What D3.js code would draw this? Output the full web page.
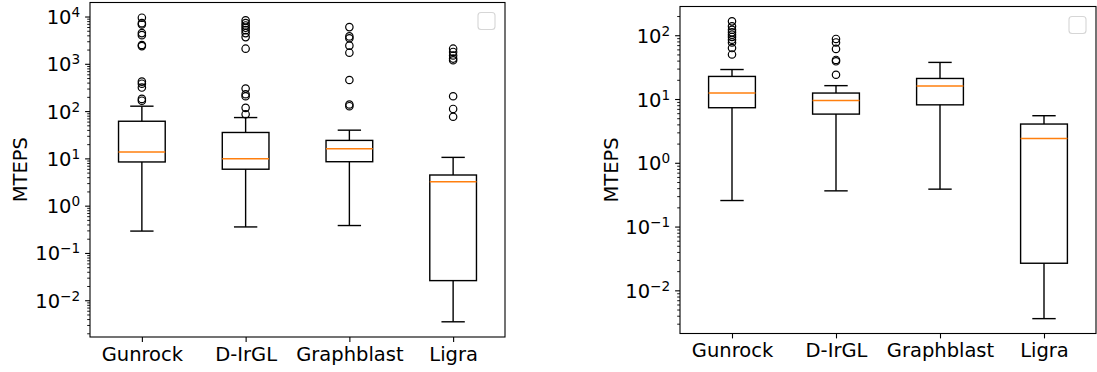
<!DOCTYPE html>
<html>
<head>
<meta charset="utf-8">
<script src="https://cdn.jsdelivr.net/npm/d3@7"></script>
<style>
  body { margin: 0; background: #fff; }
  svg { display: block; font-family: "DejaVu Sans", sans-serif; }
</style>
</head>
<body>
<svg id="chart" width="1097" height="372"></svg>
<script>
const categories = ['Gunrock', 'D-IrGL', 'Graphblast', 'Ligra'];

// left panel box stats (MTEPS)
const leftQ1 = [8.4, 5.9, 8.5, 0.026];
const leftMedian = [13.6, 9.8, 15.9, 3.2];
const leftQ3 = [61, 35.3, 24, 4.45];
const leftWhiskerLo = [0.29, 0.355, 0.38, 0.0035];
const leftWhiskerHi = [127, 73, 39.5, 10.5];
const leftOutliers = [
  [9440, 7250, 6800, 4460, 4040, 2500, 2370, 420, 380, 315, 181, 166],
  [8300, 7250, 6470, 5780, 5150, 4460, 3670, 2090, 300, 227, 206, 117, 86],
  [5970, 3800, 3460, 2420, 1720, 455, 138, 127],
  [2090, 1780, 1500, 1290, 1190, 206, 111, 76]
];

// right panel box stats (MTEPS)
const rightQ1 = [7.3, 5.8, 8.1, 0.0266];
const rightMedian = [12.4, 9.5, 16, 2.41];
const rightQ3 = [22.6, 12.4, 21, 4.05];
const rightWhiskerLo = [0.256, 0.363, 0.386, 0.0036];
const rightWhiskerHi = [29, 16.2, 37.5, 5.47];
const rightOutliers = [
  [165, 138, 122, 111, 102, 94, 85, 77, 63, 50],
  [87.5, 77, 61, 41, 39, 24],
  [],
  []
];

const yLabel = 'MTEPS';

const svg = d3.select('#chart');
const fontSize = 19.5;
const tickLen = 4.9, minorLen = 2.8, tickPad = 4.9;

function superscript(e) {
  return String(e).replace('-', '\u2212');
}

function drawPanel(frame, q1, med, q3, wlo, whi, outl) {
  const g = svg.append('g');
  const boxes = categories.map((c, i) => ({
    pos: i + 1, q1: q1[i], med: med[i], q3: q3[i], lo: wlo[i], hi: whi[i], fliers: outl[i]
  }));

  // log extent of everything drawn, with matplotlib-style 5% margin
  const all = boxes.flatMap(b => [b.lo, b.hi, ...b.fliers]);
  const lmin = Math.log10(d3.min(all)), lmax = Math.log10(d3.max(all));
  const m = (lmax - lmin) * 0.05;

  const x = d3.scaleLinear().domain([0.5, 4.5]).range([frame.left, frame.right]);
  const y = d3.scaleLog()
    .domain([Math.pow(10, lmin - m), Math.pow(10, lmax + m)])
    .range([frame.bottom, frame.top]);

  const majors = d3.range(Math.ceil(lmin - m), Math.floor(lmax + m) + 1);
  const minors = [];
  d3.range(Math.floor(lmin - m), Math.ceil(lmax + m)).forEach(e => {
    for (let k = 2; k < 10; k++) {
      const v = k * Math.pow(10, e);
      if (v >= y.domain()[0] && v <= y.domain()[1]) minors.push(v);
    }
  });

  // minor ticks
  g.append('g')
    .attr('transform', `translate(${frame.left},0)`)
    .call(d3.axisLeft(y).tickValues(minors).tickSize(minorLen).tickFormat(''))
    .call(a => a.select('.domain').remove())
    .selectAll('line').attr('stroke', '#000').attr('stroke-width', 0.9);

  // major ticks + 10^n labels
  const yAxis = g.append('g')
    .attr('transform', `translate(${frame.left},0)`)
    .call(d3.axisLeft(y).tickValues(majors.map(e => Math.pow(10, e)))
      .tickSize(tickLen).tickPadding(tickPad).tickFormat(''));
  yAxis.select('.domain').remove();
  yAxis.selectAll('line').attr('stroke', '#000').attr('stroke-width', 1.1);
  yAxis.selectAll('.tick text').each(function(d) {
    const t = d3.select(this).attr('dy', '0.36em')
      .attr('font-size', fontSize).attr('font-family', 'DejaVu Sans').attr('fill', '#000');
    const e = Math.round(Math.log10(d));
    t.append('tspan').text('10');
    t.append('tspan').attr('dy', -7).attr('font-size', fontSize * 0.7).text(superscript(e));
  });

  // x axis
  const xAxis = g.append('g')
    .attr('transform', `translate(0,${frame.bottom})`)
    .call(d3.axisBottom(x).tickValues([1, 2, 3, 4])
      .tickFormat((d, i) => categories[i]).tickSize(tickLen).tickPadding(tickPad));
  xAxis.select('.domain').remove();
  xAxis.selectAll('line').attr('stroke', '#000').attr('stroke-width', 1.1);
  xAxis.selectAll('text').attr('font-size', fontSize)
    .attr('font-family', 'DejaVu Sans').attr('fill', '#000');

  // boxes
  const bw = x(1.45) - x(1);
  const cw = bw / 2;
  const bg = g.selectAll('.box').data(boxes).join('g').attr('class', 'box')
    .attr('stroke', '#000').attr('stroke-width', 1.4).attr('fill', 'none');
  bg.append('line')
    .attr('x1', d => x(d.pos)).attr('x2', d => x(d.pos))
    .attr('y1', d => y(d.q1)).attr('y2', d => y(d.lo));
  bg.append('line')
    .attr('x1', d => x(d.pos)).attr('x2', d => x(d.pos))
    .attr('y1', d => y(d.q3)).attr('y2', d => y(d.hi));
  bg.append('line')
    .attr('x1', d => x(d.pos) - cw / 2).attr('x2', d => x(d.pos) + cw / 2)
    .attr('y1', d => y(d.lo)).attr('y2', d => y(d.lo));
  bg.append('line')
    .attr('x1', d => x(d.pos) - cw / 2).attr('x2', d => x(d.pos) + cw / 2)
    .attr('y1', d => y(d.hi)).attr('y2', d => y(d.hi));
  bg.append('rect')
    .attr('x', d => x(d.pos) - bw / 2).attr('width', bw)
    .attr('y', d => y(d.q3)).attr('height', d => y(d.q1) - y(d.q3));
  bg.append('line')
    .attr('x1', d => x(d.pos) - bw / 2).attr('x2', d => x(d.pos) + bw / 2)
    .attr('y1', d => y(d.med)).attr('y2', d => y(d.med))
    .attr('stroke', '#ff7f0e').attr('stroke-width', 1.5);
  bg.selectAll('circle').data(d => d.fliers.map(v => ({ pos: d.pos, v })))
    .join('circle')
    .attr('cx', d => x(d.pos)).attr('cy', d => y(d.v)).attr('r', 3.7)
    .attr('stroke-width', 1.2);

  // spines
  g.append('rect')
    .attr('x', frame.left).attr('y', frame.top)
    .attr('width', frame.right - frame.left).attr('height', frame.bottom - frame.top)
    .attr('fill', 'none').attr('stroke', '#000').attr('stroke-width', 1.1);

  // empty legend frame
  g.append('rect')
    .attr('x', frame.right - 27).attr('y', frame.top + 10)
    .attr('width', 17).attr('height', 17).attr('rx', 3)
    .attr('fill', '#fff').attr('stroke', '#d6d6d6').attr('stroke-width', 1.1);

  // y label
  g.append('text')
    .attr('transform', `translate(${frame.labelX},${(frame.top + frame.bottom) / 2}) rotate(-90)`)
    .attr('text-anchor', 'middle').attr('font-size', fontSize).attr('fill', '#000')
    .text(yLabel);
}

drawPanel({ left: 90, right: 505, top: 2.5, bottom: 337, labelX: 27 },
  leftQ1, leftMedian, leftQ3, leftWhiskerLo, leftWhiskerHi, leftOutliers);
drawPanel({ left: 680, right: 1096, top: 6.5, bottom: 333.5, labelX: 618 },
  rightQ1, rightMedian, rightQ3, rightWhiskerLo, rightWhiskerHi, rightOutliers);
</script>
</body>
</html>
